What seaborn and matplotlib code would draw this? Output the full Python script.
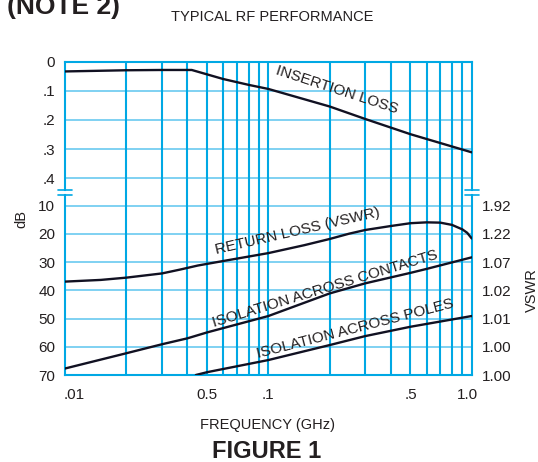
import numpy as np
import pandas as pd
import matplotlib
matplotlib.use("Agg")
import matplotlib.pyplot as plt
from matplotlib.lines import Line2D
from matplotlib.transforms import ScaledTranslation
import seaborn as sns

# frequency grid (GHz) and curve readings
grid_freq = [0.02, 0.03, 0.04, 0.05, 0.06, 0.07, 0.08, 0.09,
             0.1, 0.2, 0.3, 0.4, 0.5, 0.6, 0.7, 0.8, 0.9]
xtick_vals = [0.01, 0.05, 0.1, 0.5, 1.0]
xtick_labels = [".01", "0.5", ".1", ".5", "1.0"]

il_freq = [0.01, 0.02, 0.03, 0.042, 0.06, 0.08, 0.1, 0.2, 0.3, 0.5, 1.0]
il_db = [0.034, 0.030, 0.029, 0.029, 0.060, 0.080, 0.094, 0.154, 0.197, 0.249, 0.311]

rl_freq = [0.01, 0.015, 0.02, 0.03, 0.037, 0.045, 0.06, 0.1, 0.15, 0.2, 0.25,
           0.3, 0.4, 0.5, 0.6, 0.7, 0.8, 0.9, 0.95, 1.0]
rl_db = [36.9, 36.3, 35.5, 34.0, 32.6, 31.2, 29.6, 26.8, 24.0, 21.8, 19.9,
         18.6, 17.2, 16.2, 15.9, 16.0, 16.8, 18.4, 19.6, 21.6]

iso_c_freq = [0.01, 0.02, 0.03, 0.04, 0.05, 0.1, 0.2, 0.3, 0.5, 0.6, 1.0]
iso_c_db = [67.7, 62.3, 59.1, 57.0, 54.9, 49.1, 41.1, 37.5, 33.8, 32.4, 28.3]

iso_p_freq = [0.044, 0.05, 0.1, 0.2, 0.3, 0.5, 1.0]
iso_p_db = [70.0, 69.0, 64.7, 59.4, 56.2, 52.9, 49.1]

top_ticks = [0, 0.1, 0.2, 0.3, 0.4]
top_labels = ["0", ".1", ".2", ".3", ".4"]
bot_ticks = [10, 20, 30, 40, 50, 60, 70]
bot_labels = ["10", "20", "30", "40", "50", "60", "70"]
vswr_labels = ["1.92", "1.22", "1.07", "1.02", "1.01", "1.00", "1.00"]

sns.set_theme(style="white")
plt.rcParams["font.family"] = ["Liberation Sans", "DejaVu Sans"]

blue = "#00a8e4"
hblue = "#5cc5ef"
ink = "#231f20"
curve = "#111122"

fig = plt.figure(figsize=(5.38, 4.62), dpi=100)
ax_top = fig.add_axes([0.12082, 0.58333, 0.75595, 0.28355])
ax_bot = fig.add_axes([0.12082, 0.18831, 0.75595, 0.39502])

for ax in (ax_top, ax_bot):
    ax.set_xscale("log")
    ax.set_xlim(0.01, 1.0)
    ax.vlines(grid_freq, 0, 1, transform=ax.get_xaxis_transform(),
              colors=blue, linewidth=1.5, zorder=2)
    for s in ax.spines.values():
        s.set_color(blue)
        s.set_linewidth(1.5)
    ax.tick_params(axis="both", length=0, labelsize=11, labelcolor=ink)
    ax.set_facecolor("white")

# top panel: insertion loss
ax_top.set_ylim(0.4486, 0)
ax_top.set_yticks(top_ticks)
ax_top.set_yticklabels(top_labels)
ax_top.yaxis.grid(True, color=hblue, linewidth=1.1, zorder=1)
ax_top.spines["bottom"].set_visible(False)
ax_top.spines["left"].set_bounds(0.440, 0)
ax_top.spines["right"].set_bounds(0.440, 0)
ax_top.set_xticks([])
ax_top.minorticks_off()
ax_top.tick_params(axis="y", pad=7)

sns.lineplot(x=il_freq, y=il_db, ax=ax_top, color=curve, linewidth=1.7, zorder=5)
ax_top.text(0.218, 0.099, "INSERTION LOSS", rotation=-18, rotation_mode="anchor",
            ha="center", va="center", fontsize=11, color=ink)

# bottom panel
ax_bot.set_ylim(70, 5.32)
ax_bot.set_yticks(bot_ticks)
ax_bot.set_yticklabels(bot_labels)
ax_bot.yaxis.grid(True, color=hblue, linewidth=1.1, zorder=1)
ax_bot.spines["top"].set_visible(False)
ax_bot.spines["left"].set_bounds(70, 6.21)
ax_bot.spines["right"].set_bounds(70, 6.21)
ax_bot.set_xticks(xtick_vals)
ax_bot.set_xticklabels(xtick_labels)
ax_bot.minorticks_off()
ax_bot.tick_params(axis="x", pad=9)
ax_bot.tick_params(axis="y", pad=7)

xl = ax_bot.get_xticklabels()
xl[0].set_transform(xl[0].get_transform() + ScaledTranslation(9 / 100, 0, fig.dpi_scale_trans))
xl[-1].set_transform(xl[-1].get_transform() + ScaledTranslation(-4 / 100, 0, fig.dpi_scale_trans))

df = pd.concat([
    pd.DataFrame({"freq": rl_freq, "db": rl_db, "curve": "rl"}),
    pd.DataFrame({"freq": iso_c_freq, "db": iso_c_db, "curve": "iso_c"}),
    pd.DataFrame({"freq": iso_p_freq, "db": iso_p_db, "curve": "iso_p"}),
])
sns.lineplot(data=df, x="freq", y="db", hue="curve", ax=ax_bot,
             palette=[curve] * 3, linewidth=1.7, legend=False, zorder=5)
ax_bot.set_xlabel("")
ax_bot.set_ylabel("")
ax_top.set_xlabel("")
ax_top.set_ylabel("")

ax_bot.text(0.140, 18.9, "RETURN LOSS (VSWR)", rotation=13, rotation_mode="anchor",
            ha="center", va="center", fontsize=11, color=ink)
ax_bot.text(0.190, 39.5, "ISOLATION ACROSS CONTACTS", rotation=17, rotation_mode="anchor",
            ha="center", va="center", fontsize=11, color=ink)
ax_bot.text(0.267, 53.7, "ISOLATION ACROSS POLES", rotation=14.5, rotation_mode="anchor",
            ha="center", va="center", fontsize=11, color=ink)

# VSWR axis
ax_v = ax_bot.twinx()
ax_v.set_ylim(70, 5.32)
ax_v.set_yticks(bot_ticks)
ax_v.set_yticklabels(vswr_labels)
ax_v.tick_params(axis="y", length=0, labelsize=11, labelcolor=ink, pad=7)
for s in ax_v.spines.values():
    s.set_visible(False)
ax_v.grid(False)

# axis break marks
for x0, x1 in [(58, 72), (465, 479)]:
    for yp in (190, 195):
        fig.add_artist(Line2D([x0 / 538, x1 / 538], [1 - yp / 462, 1 - yp / 462],
                              color=blue, linewidth=1.2, transform=fig.transFigure))

fig.text(7 / 538, 1 - 14 / 462, "(NOTE 2)", fontsize=19, fontweight="bold",
         color=ink, ha="left", va="baseline")
fig.text(272 / 538, 1 - 17 / 462, "TYPICAL RF PERFORMANCE", fontsize=10.5,
         color=ink, ha="center", va="center")
fig.text(21 / 538, 1 - 219 / 462, "dB", fontsize=10.5, color=ink, rotation=90,
         ha="center", va="center")
fig.text(532 / 538, 1 - 290 / 462, "VSWR", fontsize=10.5, color=ink, rotation=90,
         ha="center", va="center")
fig.text(267 / 538, 1 - 425 / 462, "FREQUENCY (GHz)", fontsize=10.5, color=ink,
         ha="center", va="center")
fig.text(267 / 538, 1 - 451 / 462, "FIGURE 1", fontsize=17, fontweight="bold",
         color=ink, ha="center", va="center")

fig.savefig("out.png", dpi=100)
